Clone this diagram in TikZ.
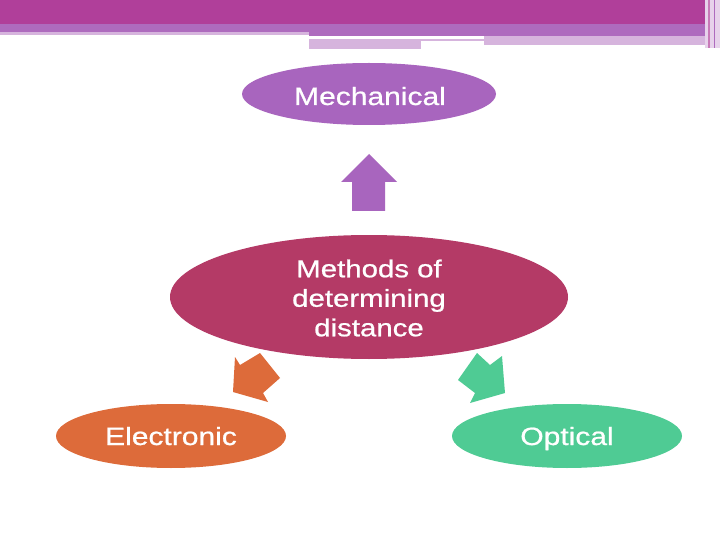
\documentclass[tikz,border=0pt]{standalone}
\usepackage{fontspec}
\setmainfont{Liberation Sans}[FakeStretch=1.2,FakeBold=0.8]
\begin{document}
\begin{tikzpicture}[x=1pt,y=-1pt,
  lbl/.style={text=white,font=\fontsize{25}{29.5}\selectfont,align=center,inner sep=0pt},
  clbl/.style={lbl,font=\fontsize{24.5}{29.5}\selectfont}]
\definecolor{magbar}{HTML}{B03F9A}
\definecolor{purbar}{HTML}{AE6BBE}
\definecolor{lilac}{HTML}{D6B4DD}
\definecolor{mech}{HTML}{A865BE}
\definecolor{center}{HTML}{B43A66}
\definecolor{elec}{HTML}{DD6B3A}
\definecolor{opt}{HTML}{4FCB94}
\useasboundingbox (0,0) rectangle (720,540);
\fill[white] (0,0) rectangle (720,540);
% top bars
\fill[magbar] (0,0) rectangle (720,24);
\fill[purbar] (0,24) rectangle (720,32);
\fill[lilac] (0,32) rectangle (309,35);
\fill[purbar] (309,32) rectangle (720,36);
\fill[lilac] (309,39) rectangle (484,41);
\fill[lilac] (309,41) rectangle (421,49);
\fill[lilac] (484,36) rectangle (705,45);
\fill[lilac!60] (705,0) rectangle (720,48);
\fill[magbar!70] (708,0) rectangle (710,48);
\fill[purbar] (714,0) rectangle (715,48);
% ellipses
\fill[mech] (369,94) ellipse [x radius=127, y radius=31];
\node[lbl,anchor=base] (mechl) at (370,105) {Mechanical};
\fill[center] (369,297) ellipse [x radius=199, y radius=62];
\node[clbl] (cen) at (369,298) {Methods of\\determining\\distance};
\fill[elec] (171,436) ellipse [x radius=115, y radius=32];
\node[lbl,anchor=base] (el) at (171,445) {Electronic};
\fill[opt] (567,436) ellipse [x radius=115, y radius=32];
\node[lbl,anchor=base] (op) at (567,445) {Optical};
% block arrows
\fill[mech] (352,211) -- (352,182) -- (341,182) -- (369,154) -- (397,182) -- (385,182) -- (385,211) -- cycle;
\fill[elec] (235,357) -- (240,365) -- (260,353) -- (280,378) -- (263,393) -- (268,402) -- (233,392) -- cycle;
\fill[opt] (458,380) -- (477,353) -- (490,365) -- (502,356) -- (505,393) -- (470,403) -- (475,393) -- cycle;
\end{tikzpicture}
\end{document}
